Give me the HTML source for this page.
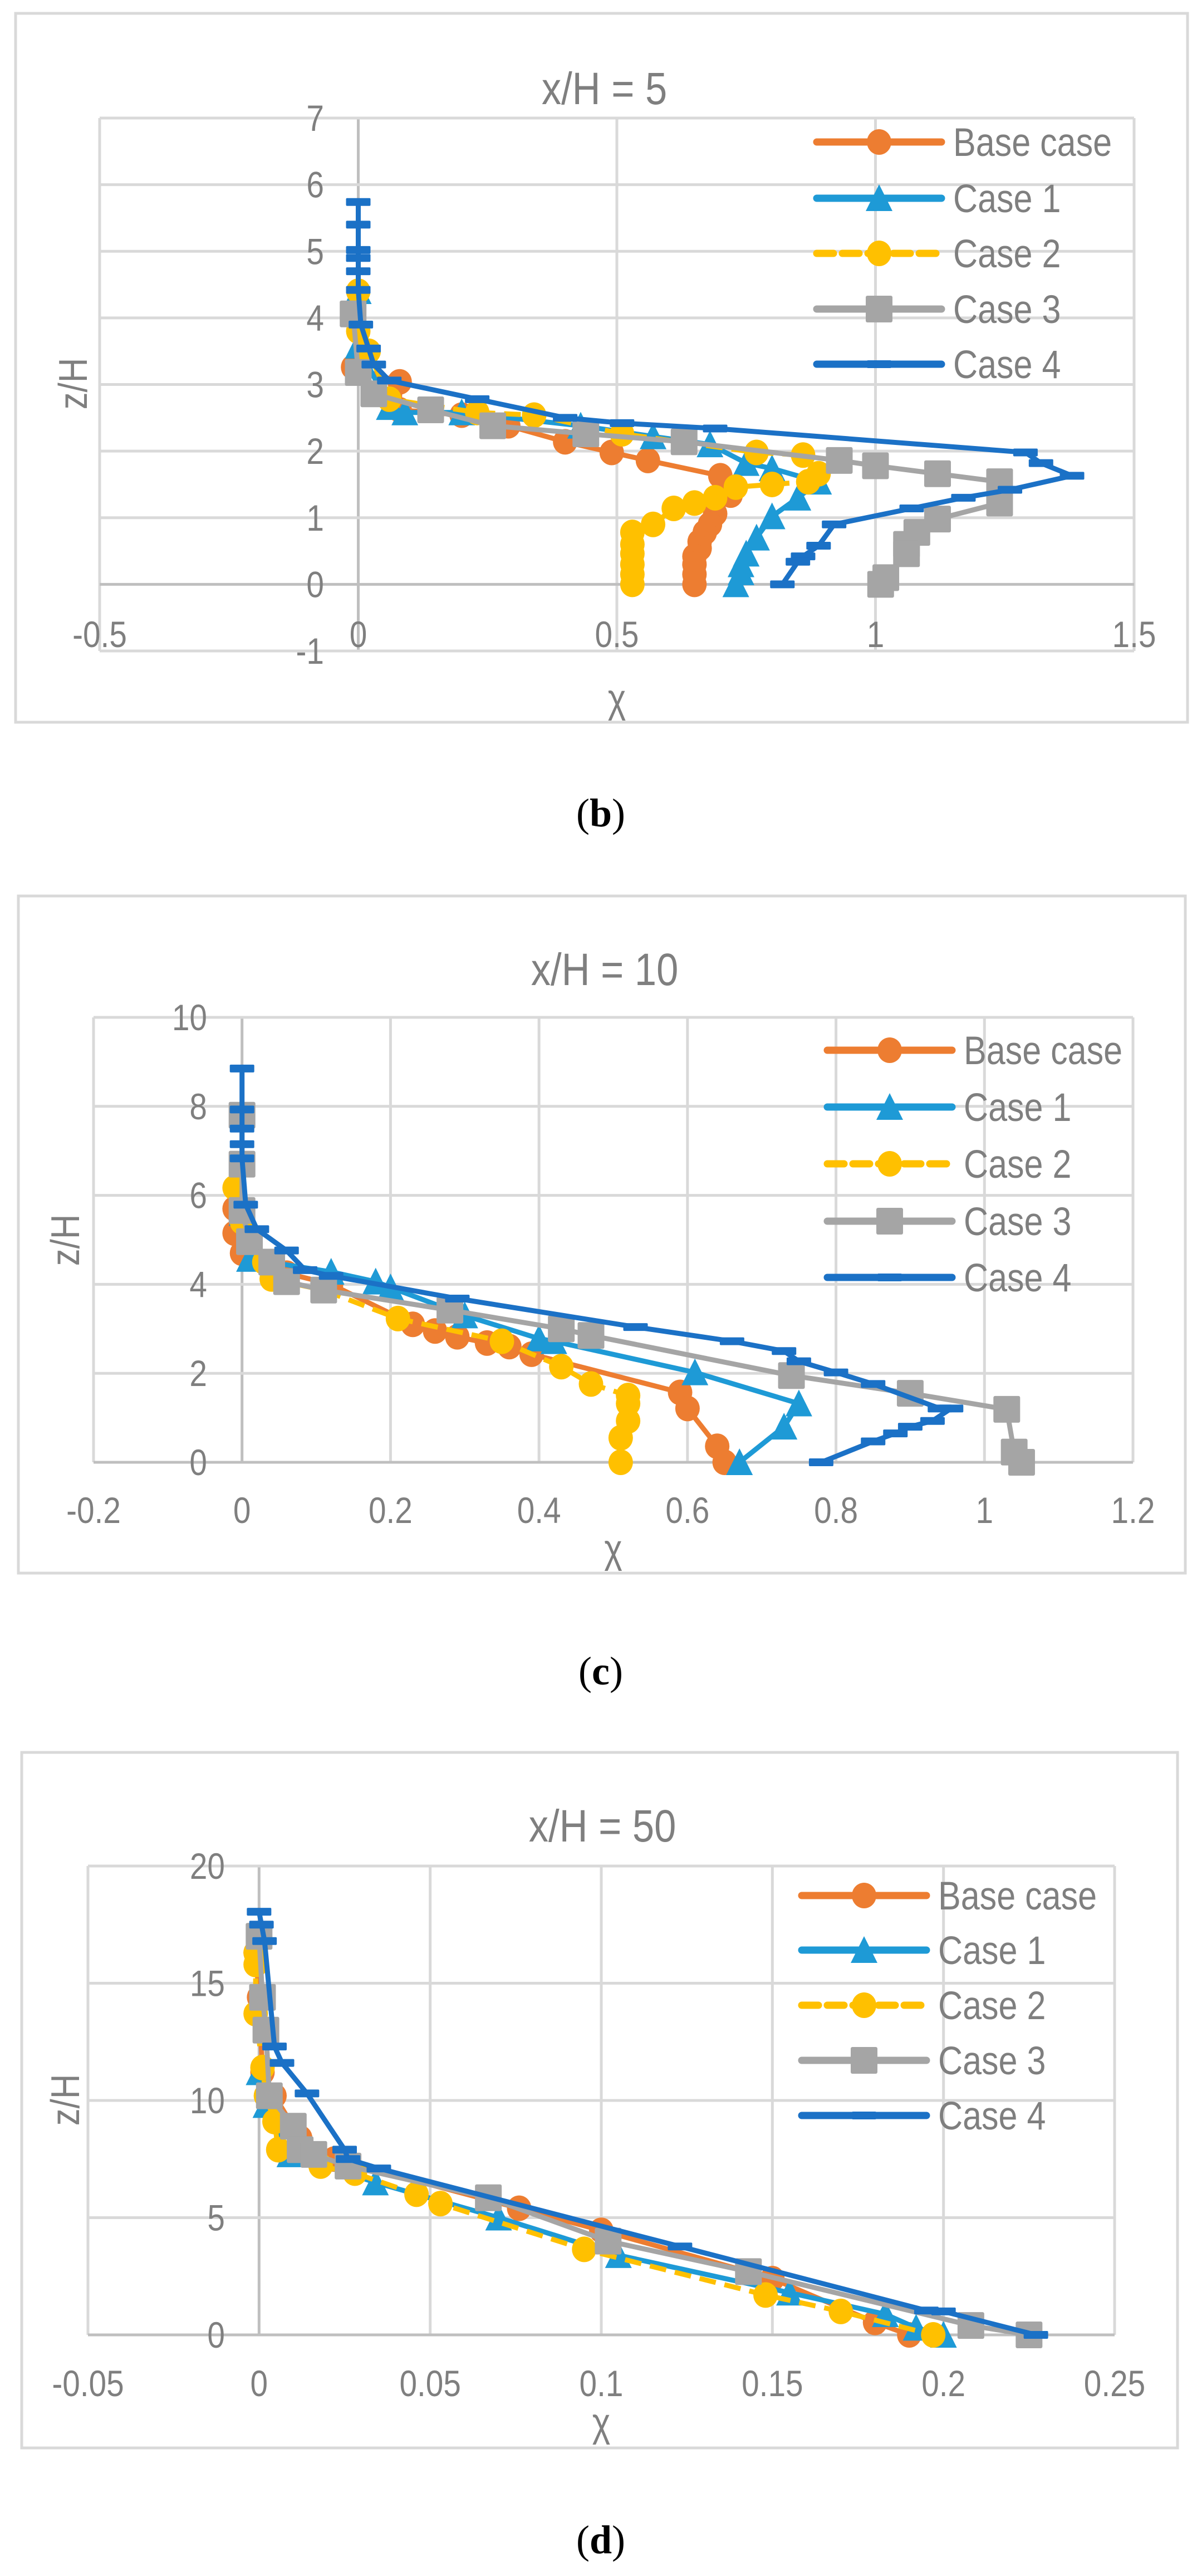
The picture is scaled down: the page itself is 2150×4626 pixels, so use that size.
<!DOCTYPE html>
<html><head><meta charset="utf-8"><style>
html,body{margin:0;padding:0;background:#fff}
svg{display:block}
text{font-family:"Liberation Sans",sans-serif;fill:#7f7f7f}
</style></head><body>
<svg id="s" width="2150" height="4626" viewBox="0 0 2150 4626" xmlns="http://www.w3.org/2000/svg"></svg>
<script>
const S=document.getElementById('s');let out='';
const C={b:'#ED7D31',c1:'#1E9AD6',c2:'#FFC000',c3:'#A5A5A5',c4:'#1B71C6'};
function T(x,y,sz,anc,str,extra){return `<text transform="translate(${x},${y}) scale(0.86,1)${extra||''}" font-size="${sz}" text-anchor="${anc}">${str}</text>`;}
function marker(t,x,y,col){
 if(t=='o')return `<ellipse cx="${x}" cy="${y}" rx="22" ry="23" fill="${col}"/>`;
 if(t=='t')return `<polygon points="${x},${y-25} ${x+24},${y+23} ${x-24},${y+23}" fill="${col}"/>`;
 if(t=='s')return `<rect x="${x-24}" y="${y-24}" width="48" height="48" rx="3" fill="${col}"/>`;
 if(t=='d')return `<rect x="${x-22}" y="${y-7}" width="44" height="14" rx="2" fill="${col}"/>`;
 return '';
}
function chart(o){
 const X=v=>o.x0+(v-o.xmin)/(o.xmax-o.xmin)*(o.x1-o.x0);
 const Y=v=>o.y1-(v-o.ymin)/(o.ymax-o.ymin)*(o.y1-o.y0);
 out+=`<rect x="${o.bx0}" y="${o.by0}" width="${o.bx1-o.bx0}" height="${o.by1-o.by0}" fill="#fff" stroke="#d9d9d9" stroke-width="5"/>`;
 for(let v=o.xmin;v<=o.xmax+1e-9;v+=o.xs){const x=X(v);out+=`<line x1="${x}" y1="${o.y0}" x2="${x}" y2="${o.y1}" stroke="${Math.abs(v)<1e-9?'#bfbfbf':'#d9d9d9'}" stroke-width="5"/>`;}
 for(let v=o.ymin;v<=o.ymax+1e-9;v+=o.ys){const y=Y(v);out+=`<line x1="${o.x0}" y1="${y}" x2="${o.x1}" y2="${y}" stroke="${Math.abs(v)<1e-9?'#bfbfbf':'#d9d9d9'}" stroke-width="5"/>`;}
 for(let v=o.xmin;v<=o.xmax+1e-9;v+=o.xs){out+=T(X(v),o.xl+23,66,'middle',+v.toFixed(3));}
 for(let v=o.ymin;v<=o.ymax+1e-9;v+=o.ys){out+=T(o.yr,Y(v)+23,66,'end',+v.toFixed(3));}
 out+=T((o.bx0+o.bx1)/2+5,o.ty+29,82,'middle',o.title);
 out+=T((o.x0+o.x1)/2,o.chi+25,72,'middle','χ');
 out+=`<text transform="translate(${o.zx+25},${o.zy}) rotate(-90) scale(0.86,1)" font-size="72" text-anchor="middle">z/H</text>`;
 out+=`<text x="1079" y="${o.cap+25}" font-size="72" text-anchor="middle" style="font-family:'Liberation Serif',serif;fill:#000">(<tspan font-weight="bold">${o.letter}</tspan>)</text>`;
 const ser=[['b','o',false],['c1','t',false],['c2','o',true],['c3','s',false],['c4','d',false]];
 ser.forEach((s,i)=>{const d=o.data[i];const col=C[s[0]];
  const pts=d.map(p=>[X(p[0]),Y(p[1])]);
  out+=`<polyline points="${pts.map(p=>p.join(',')).join(' ')}" fill="none" stroke="${col}" stroke-width="9" stroke-linejoin="round" ${s[2]?'stroke-dasharray="30 16"':''}/>`;
  pts.forEach(p=>out+=marker(s[1],p[0],p[1],col));
 });
 const names=['Base case','Case 1','Case 2','Case 3','Case 4'];
 ser.forEach((s,i)=>{const y=o.ly[i],col=C[s[0]];
  out+=`<line x1="${o.lx0}" y1="${y}" x2="${o.lx0+224}" y2="${y}" stroke="${col}" stroke-width="13" stroke-linecap="round" ${s[2]?'stroke-dasharray="30 16"':''}/>`;
  out+=marker(s[1],o.lx0+112,y,col);
  out+=T(o.lx0+245,y+25,71,'start',names[i]);
 });
}
chart({bx0:28,bx1:2133,by0:24,by1:1297,x0:179,x1:2037,xmin:-0.5,xmax:1.5,xs:0.5,y0:212,y1:1169,ymin:-1,ymax:7,ys:1,
 xl:1139,yr:582,ty:158,chi:1254,zx:131,zy:689,cap:1459,letter:'b',title:'x/H = 5',lx0:1467,ly:[255,356,455,555,654],
 data:[
 [[-0.01,3.26],[0.08,3.04],[0.08,2.62],[0.2,2.54],[0.29,2.38],[0.4,2.14],[0.49,1.98],[0.56,1.86],[0.7,1.63],[0.72,1.34],[0.69,1.06],[0.68,0.9],[0.67,0.78],[0.66,0.64],[0.66,0.54],[0.65,0.42],[0.65,0.3],[0.65,0.15],[0.65,0]],
 [[0,4.4],[0,3.58],[0.06,2.66],[0.09,2.58],[0.2,2.58],[0.43,2.38],[0.57,2.22],[0.68,2.1],[0.75,1.82],[0.8,1.74],[0.89,1.54],[0.85,1.3],[0.8,1.02],[0.77,0.7],[0.75,0.46],[0.74,0.3],[0.74,0.18],[0.73,0]],
 [[0,4.4],[0,3.8],[0.02,3.5],[0.06,2.78],[0.23,2.58],[0.34,2.54],[0.51,2.26],[0.77,1.98],[0.86,1.94],[0.89,1.66],[0.87,1.54],[0.8,1.5],[0.73,1.46],[0.69,1.3],[0.65,1.22],[0.61,1.14],[0.57,0.9],[0.53,0.78],[0.53,0.6],[0.53,0.46],[0.53,0.3],[0.53,0.15],[0.53,0]],
 [[-0.01,4.06],[0,3.18],[0.03,2.86],[0.14,2.62],[0.26,2.38],[0.44,2.26],[0.63,2.14],[0.93,1.86],[1.0,1.78],[1.12,1.66],[1.24,1.54],[1.24,1.22],[1.12,0.98],[1.08,0.78],[1.06,0.6],[1.06,0.46],[1.02,0.1],[1.01,0]],
 [[0,5.74],[0,5.4],[0,5.02],[0,4.9],[0,4.7],[0,4.42],[0.005,3.9],[0.02,3.54],[0.03,3.3],[0.06,3.06],[0.23,2.78],[0.4,2.5],[0.51,2.42],[0.69,2.34],[1.29,1.98],[1.32,1.82],[1.38,1.63],[1.26,1.42],[1.17,1.3],[1.07,1.14],[0.92,0.9],[0.89,0.58],[0.86,0.42],[0.85,0.34],[0.82,0]]
 ]});
chart({bx0:33,bx1:2129,by0:1609,by1:2825,x0:168,x1:2035,xmin:-0.2,xmax:1.2,xs:0.2,y0:1827,y1:2626,ymin:0,ymax:10,ys:2,
 xl:2712,yr:372,ty:1740,chi:2781,zx:117,zy:2227,cap:3000,letter:'c',title:'x/H = 10',lx0:1486,ly:[1886,1988,2090,2193,2294],
 data:[
 [[-0.01,5.7],[-0.01,5.15],[0,4.7],[0.06,4.25],[0.12,4.0],[0.23,3.1],[0.26,2.95],[0.29,2.82],[0.33,2.68],[0.36,2.6],[0.39,2.43],[0.59,1.57],[0.6,1.21],[0.64,0.36],[0.65,0]],
 [[0,5.6],[0.01,4.57],[0.12,4.28],[0.18,4.06],[0.2,3.93],[0.3,3.3],[0.4,2.78],[0.42,2.72],[0.61,2.02],[0.75,1.32],[0.73,0.8],[0.67,0]],
 [[-0.01,6.17],[0,5.4],[0.03,4.5],[0.04,4.12],[0.11,3.87],[0.21,3.23],[0.35,2.72],[0.43,2.15],[0.47,1.76],[0.52,1.5],[0.52,1.32],[0.52,0.93],[0.51,0.55],[0.51,0]],
 [[0,7.8],[0,6.7],[0,5.66],[0.01,4.96],[0.04,4.5],[0.06,4.06],[0.11,3.87],[0.28,3.42],[0.43,3.0],[0.47,2.85],[0.74,1.95],[0.9,1.55],[1.03,1.19],[1.04,0.23],[1.05,0]],
 [[0,8.85],[0,7.93],[0,7.5],[0,7.15],[0,6.83],[0.005,5.79],[0.02,5.24],[0.06,4.76],[0.085,4.32],[0.12,4.19],[0.29,3.68],[0.53,3.04],[0.66,2.72],[0.73,2.5],[0.75,2.27],[0.8,2.02],[0.85,1.76],[0.94,1.21],[0.955,1.21],[0.93,0.93],[0.9,0.8],[0.88,0.65],[0.85,0.47],[0.78,0]]
 ]});
chart({bx0:39,bx1:2115,by0:3147,by1:4396,x0:158,x1:2002,xmin:-0.05,xmax:0.25,xs:0.05,y0:3351,y1:4193,ymin:0,ymax:20,ys:5,
 xl:4280,yr:404,ty:3278,chi:4350,zx:117,zy:3771,cap:4560,letter:'d',title:'x/H = 50',lx0:1440,ly:[3404,3502,3601,3700,3799],
 data:[
 [[-0.001,16.3],[0,14.4],[0.001,11.2],[0.0045,10.2],[0.012,8.4],[0.022,7.5],[0.076,5.4],[0.1,4.46],[0.15,2.4],[0.18,0.53],[0.19,0]],
 [[0,11.2],[0.002,9.8],[0.009,7.7],[0.034,6.5],[0.07,5.0],[0.105,3.4],[0.155,1.8],[0.183,0.88],[0.192,0.3],[0.2,0]],
 [[-0.001,16.3],[-0.001,15.8],[-0.001,13.7],[0.001,11.4],[0.002,10.2],[0.0045,9.1],[0.0056,7.9],[0.018,7.2],[0.028,6.9],[0.046,6.0],[0.053,5.6],[0.095,3.65],[0.148,1.7],[0.17,1.0],[0.197,0]],
 [[0,17],[0.001,14.4],[0.002,13],[0.003,10.2],[0.01,8.9],[0.012,7.9],[0.016,7.7],[0.026,7.2],[0.067,5.85],[0.102,4.0],[0.143,2.7],[0.208,0.4],[0.225,0]],
 [[0,18.05],[0.0007,17.5],[0.0016,16.8],[0.0045,12.3],[0.0067,11.6],[0.014,10.3],[0.025,7.9],[0.026,7.5],[0.035,7.1],[0.123,3.77],[0.195,1.04],[0.2,1.0],[0.227,0]]
 ]});
S.innerHTML=out;
</script>
</body></html>
